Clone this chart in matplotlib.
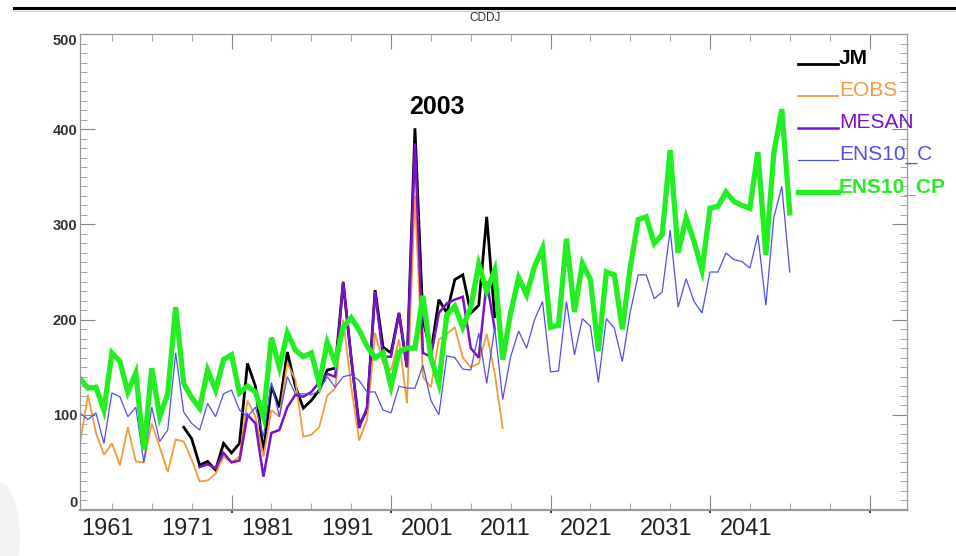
import matplotlib
matplotlib.use("Agg")
import matplotlib.pyplot as plt
import matplotlib.transforms as mtransforms
from matplotlib.lines import Line2D
from matplotlib.patches import Ellipse
from matplotlib.ticker import MultipleLocator

# CDDJ per year
anios_jm = list(range(1974, 2014))
jm = [87, 75, 47, 51, 42, 70, 60, 70, 154, 130, 60, 130, 108, 166, 130, 107, 115, 126, 147, 149,
      239, 160, 89, 105, 231, 171, 165, 207, 150, 401, 200, 165, 221, 207, 242, 247, 207, 215, 308, 203]

anios_eobs = list(range(1961, 2015))
eobs = [70, 121, 81, 58, 70, 47, 87, 51, 50, 91, 66, 40, 74, 72, 53, 30,
        31, 38, 56, 50, 56, 115, 98, 56, 105, 98, 154, 137, 77, 79, 87, 120, 128, 200, 130, 73,
        95, 186, 154, 147, 179, 112, 330, 140, 129, 179, 185, 192, 160, 150, 154, 185, 144, 86]

anios_mesan = list(range(1976, 2014))
mesan = [45, 48, 44, 60, 50, 52, 100, 91, 35, 81, 84, 108, 121, 119, 124, 134, 143, 140, 240,
         160, 86, 108, 229, 161, 161, 207, 150, 385, 165, 161, 207, 217, 221, 224, 170, 160, 240, 190]

anios_ens = list(range(1961, 2051))
ens10_c = [102, 95, 102, 70, 123, 119, 98, 108, 50, 108, 72, 84, 165, 103, 91, 84,
           112, 98, 122, 126, 105, 98, 108, 77, 134, 98, 140, 122, 122, 121, 125,
           140, 129, 140, 142, 136, 124, 124, 105, 102, 130, 128, 128, 152, 115, 100,
           162, 160, 148, 147, 186, 133, 192, 116, 161, 188, 170, 200, 219, 145, 146,
           219, 163, 201, 193, 134, 201, 191, 156, 208, 247, 247, 222, 229, 294, 213,
           243, 219, 207, 250, 250, 270, 263, 261, 254, 289, 215, 307, 340, 250]
ens10_cp = [138, 128, 129, 105, 165, 156, 124, 144, 63, 149, 98, 122, 213, 133, 118, 107,
            147, 126, 158, 163, 123, 130, 124, 98, 181, 150, 186, 168, 161, 165, 133,
            176, 155, 192, 202, 189, 172, 160, 165, 130, 166, 170, 170, 225, 160, 133,
            205, 214, 192, 213, 258, 230, 252, 158, 207, 244, 226, 256, 275, 192, 194,
            285, 208, 259, 242, 167, 250, 247, 190, 255, 305, 308, 280, 289, 378, 270,
            307, 282, 252, 317, 319, 334, 324, 320, 317, 376, 268, 375, 421, 312]

etiquetas = [1961, 1971, 1981, 1991, 2001, 2011, 2021, 2031, 2041]

series = [
    ("JM", anios_jm, jm, "#000000", 2.0, "bold"),
    ("EOBS", anios_eobs, eobs, "#f39a3c", 1.3, "normal"),
    ("MESAN", anios_mesan, mesan, "#7a12c8", 1.8, "normal"),
    ("ENS10_C", anios_ens, ens10_c, "#5050ea", 0.9, "normal"),
    ("ENS10_CP", anios_ens, ens10_cp, "#22ee22", 3.8, "bold"),
]

W, H = 956, 556
fig = plt.figure(figsize=(W / 100, H / 100), dpi=100)
ax = fig.add_axes([80 / W, 1 - 510 / H, 827 / W, 476 / H])

for nombre, x, y, col, lw, _ in series:
    ax.plot(x, y, color=col, lw=lw, solid_joinstyle="miter")

ax.set_xlim(1961, 2064.7)
ax.set_ylim(0, 500)

ax.set_yticks(range(0, 501, 100))
ax.set_yticklabels([str(v) for v in range(0, 501, 100)], fontsize=10.5, fontweight="bold",
                   color="#333333", family="Liberation Sans")
ax.yaxis.set_minor_locator(MultipleLocator(10))
ylabs = ax.get_yticklabels()
ylabs[0].set_va("bottom")
ylabs[-1].set_va("top")

ax.set_xticks(range(1980, 2061, 20))
ax.set_xticklabels(["\u2022"] * 5, fontsize=5)
ax.xaxis.set_minor_locator(MultipleLocator(5))

ax.tick_params(which="major", direction="in", length=11, width=0.8, color="#888888",
               top=True, right=True, pad=2)
ax.tick_params(which="minor", direction="in", length=5, width=0.6, color="#999999",
               top=True, right=True)
ax.tick_params(axis="x", pad=0)
for s in ax.spines.values():
    s.set_color("#999999")
    s.set_linewidth(0.9)
ax.spines["bottom"].set_linewidth(1.6)

# year labels under the axis
trans = mtransforms.blended_transform_factory(ax.transData, ax.transAxes)
for a in etiquetas:
    ax.text(a + 0.2, -0.016, str(a), transform=trans, ha="left", va="top", fontsize=17,
            family="Liberation Sans", color="#222222")

ax.annotate("2003", xy=(2003, jm[anios_jm.index(2003)]), xytext=(16, 15),
            textcoords="offset points", ha="center", va="center", fontsize=18,
            fontweight="bold", family="Liberation Sans")

fig.text(485 / W, 1 - 18 / H, "CDDJ", ha="center", va="center", fontsize=8.5,
         color="#333333", family="Liberation Sans")

# legend on the right
for i, (nombre, x, y, col, lw, peso) in enumerate(series):
    yb = 1 - (64 + 32 * i) / H
    fig.add_artist(Line2D([798 / W, 838 / W], [yb, yb], color=col, lw=lw))
    fig.text(839 / W, yb, nombre, ha="left", va="baseline", fontsize=15, color=col,
             fontweight=peso, family="Liberation Sans")

# frame line at the top
fig.add_artist(Line2D([14 / W, 1], [1 - 8 / H, 1 - 8 / H], color="black", lw=2.2))
fig.add_artist(Line2D([14 / W, 1], [1 - 11 / H, 1 - 11 / H], color="#cccccc", lw=0.8))
fig.add_artist(Ellipse((0, 0.03), 0.04, 0.2, transform=fig.transFigure, color="#f3f3f3", zorder=-1))

fig.savefig("out.png", dpi=100)
